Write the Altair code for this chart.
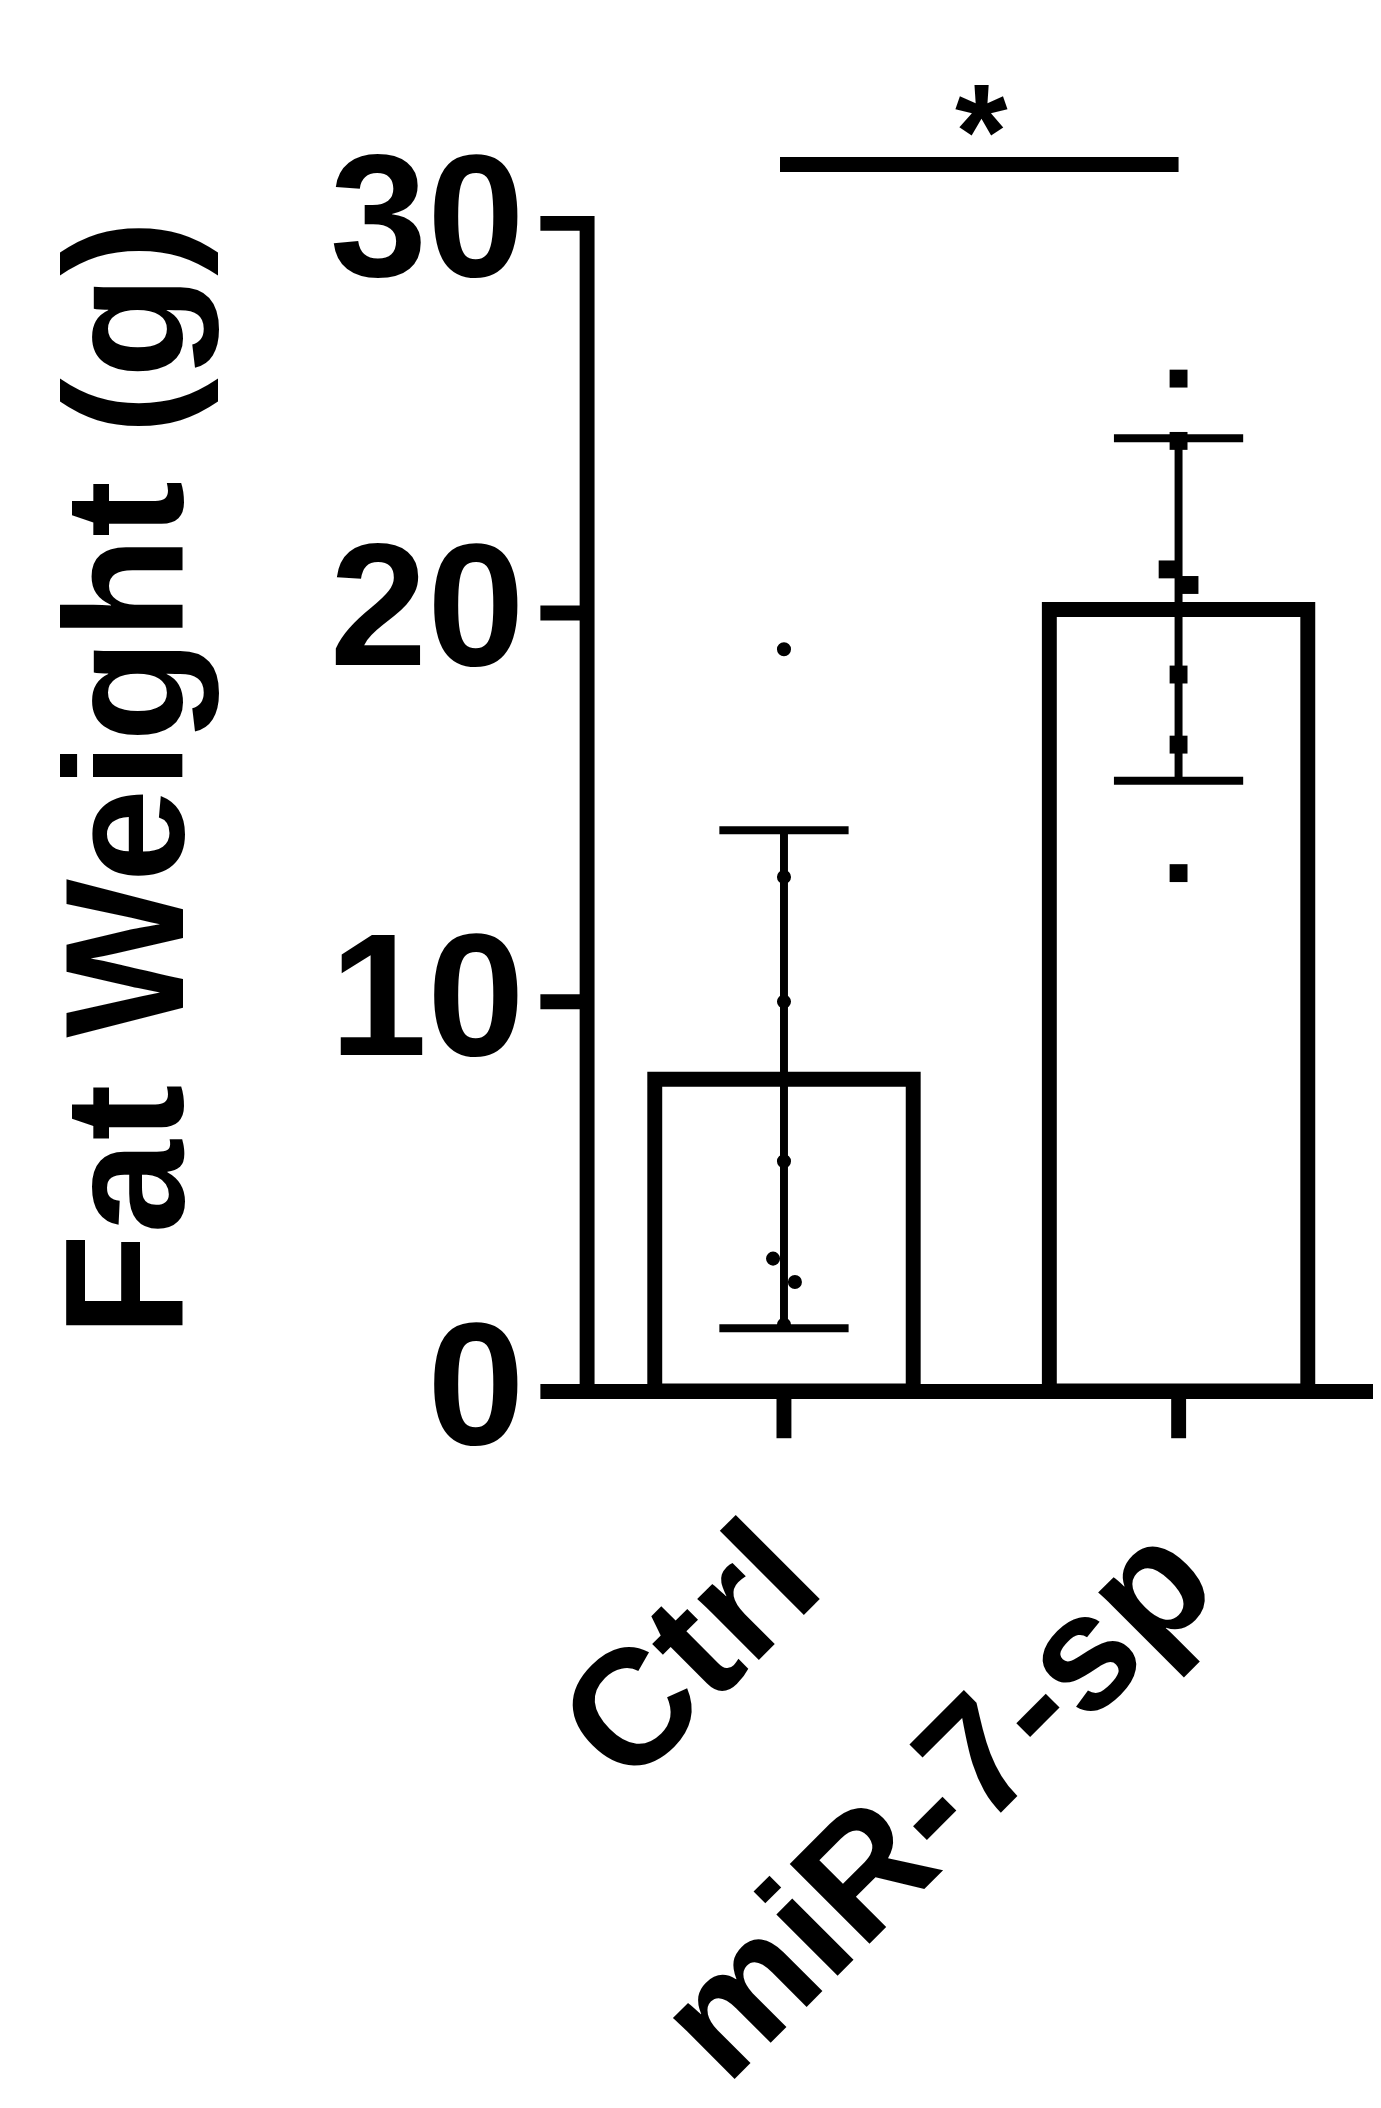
import altair as alt
import pandas as pd

# ---- data ----
groups = ["Ctrl", "miR-7-sp"]
ctrl_values = [19.05, 13.2, 10.0, 5.9, 3.4, 2.8, 1.7]
mir_values = [26.0, 24.4, 21.1, 20.7, 18.4, 16.6, 13.3]
ctrl_jitter = [0, 0, 0, 0, -1, 1, 0]
mir_jitter = [0, 0, -1, 1, 0, 0, 0]
y_ticks = [0, 10, 20, 30]
y_title = "Fat Weight (g)"
sig_label = "*"
sig_level = 31.5
star_level = 31.15

FONT = "Liberation Sans"
W, H = 791, 1175
STEP = 397
JIT = 11

rows = []
for v, j in zip(ctrl_values, ctrl_jitter):
    rows.append({"group": groups[0], "value": v, "jit": j})
for v, j in zip(mir_values, mir_jitter):
    rows.append({"group": groups[1], "value": v, "jit": j})
df = pd.DataFrame(rows)
sig_df = pd.DataFrame({"start": [groups[0]], "end": [groups[1]], "y": [sig_level], "ys": [star_level]})

xscale = alt.Scale(domain=groups, paddingInner=0.345, paddingOuter=0.169, align=0.511)
yscale = alt.Scale(domain=[0, 30], nice=False, zero=True)

X = alt.X("group:N", scale=xscale, sort=groups, title=None)

bars = alt.Chart(df).mark_bar(fill="white", stroke="black", strokeWidth=15).encode(
    x=X,
    y=alt.Y("mean(value):Q", scale=yscale, title=y_title,
            axis=alt.Axis(values=y_ticks)),
)

err = alt.Chart(df).mark_errorbar(
    extent="stdev", ticks={"opacity": 1, "color": "black"}, size=130, thickness=8, color="black"
).encode(
    x=X,
    y=alt.Y("value:Q", scale=yscale, title=y_title),
)


def point_layer(j):
    return alt.Chart(df).transform_filter(alt.datum.jit == j).mark_point(
        filled=True, opacity=1, color="black", xOffset=j * JIT
    ).encode(
        x=X,
        y=alt.Y("value:Q", scale=yscale, title=y_title),
        shape=alt.Shape("group:N", scale=alt.Scale(domain=groups, range=["circle", "square"]), legend=None),
        size=alt.Size("group:N", scale=alt.Scale(domain=groups, range=[200, 324]), legend=None),
    )


sig = alt.Chart(sig_df).mark_rule(strokeWidth=15, color="black", strokeCap="butt", xOffset=-4).encode(
    x=alt.X("start:N", scale=xscale, sort=groups, title=None, bandPosition=0.5),
    x2=alt.X2("end", bandPosition=0.5),
    y=alt.Y("y:Q", scale=yscale, title=y_title),
)

star = alt.Chart(sig_df).mark_text(text=sig_label, fontSize=136, font=FONT, fontWeight="bold",
                                   baseline="alphabetic", align="center", dx=STEP / 2, color="black").encode(
    x=alt.X("start:N", scale=xscale, sort=groups, title=None),
    y=alt.Y("ys:Q", scale=yscale, title=y_title),
)

chart = alt.layer(bars, err, point_layer(0), point_layer(-1), point_layer(1), sig, star).properties(
    width=W, height=H,
    autosize=alt.AutoSizeParams(type="none"),
    padding={"left": 582, "top": 210, "right": 0, "bottom": 700},
).configure_view(stroke=None).configure_axis(
    grid=False,
    domainColor="black", domainWidth=15, domainCap="square",
    tickColor="black", tickWidth=15, tickSize=47,
    labelFont=FONT, labelFontWeight="bold", labelColor="black", labelLimit=0,
    titleFont=FONT, titleFontWeight="bold", titleColor="black", titleLimit=0,
    labelOverlap=False,
).configure_axisY(
    labelFontSize=176, labelPadding=16,
    titleFontSize=169, titleAngle=270, titleAlign="center", titleBaseline="alphabetic",
    titleX=-406, titleY=558,
).configure_axisX(
    labelFontSize=165, labelAngle=315, labelAlign="right", labelBaseline="middle",
    labelPadding=118, labelOffset=9,
)

chart.save("out.html", embed_options={"renderer": "svg", "actions": False})
